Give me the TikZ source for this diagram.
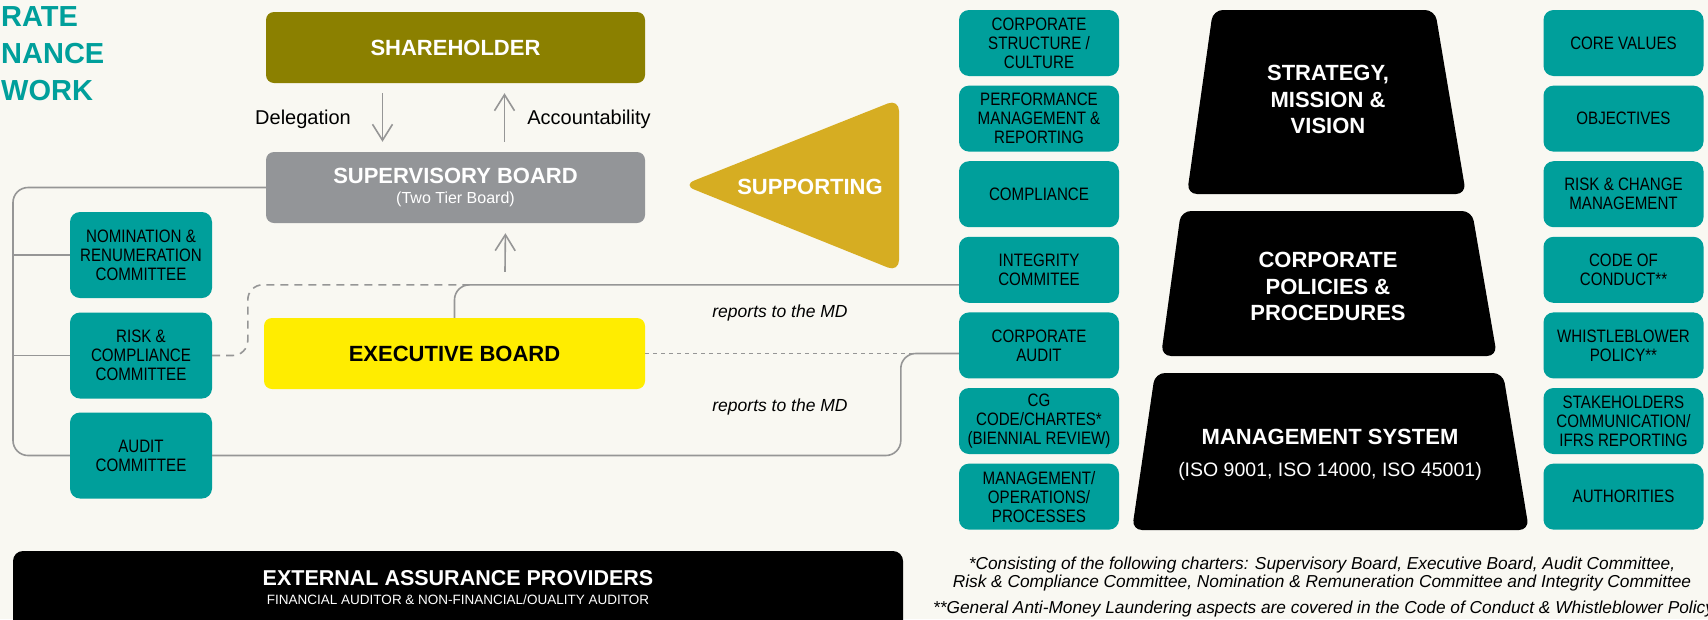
\documentclass[tikz,border=0pt]{standalone}
\usepackage{fontspec}
\setmainfont{Liberation Sans}
\newfontfamily\narrowfont[FakeStretch=0.84]{Liberation Sans}
\usetikzlibrary{arrows.meta}

\definecolor{bgcream}{RGB}{249,248,242}
\definecolor{cgteal}{RGB}{0,159,155}
\definecolor{cgolive}{RGB}{139,128,0}
\definecolor{cggrey}{RGB}{147,149,152}
\definecolor{cggold}{RGB}{214,173,34}
\definecolor{cgyellow}{RGB}{255,237,0}
\definecolor{cgline}{RGB}{150,150,150}

\begin{document}
\begin{tikzpicture}[x=1pt, y=-1pt,
    board/.style = {rounded corners=8pt, minimum width=379pt, minimum height=71pt, inner sep=0pt, align=center},
    topic/.style = {fill=cgteal, rounded corners=10pt, minimum width=160pt, minimum height=66pt, inner sep=0pt, align=center, font=\narrowfont\fontsize{18}{19}\selectfont},
    committee/.style = {topic, minimum width=142pt, minimum height=86pt},
    link/.style = {cgline, line width=1.6pt, rounded corners=15pt},
    arrow/.style = {cgline, line width=1.6pt, -{Straight Barb[length=16pt,width=20pt]}, shorten >=10pt, shorten <=10pt},
    slab/.style = {fill=black, rounded corners=10pt},
    big/.style = {text=white, align=center, font=\bfseries\fontsize{22}{26.5}\selectfont},
    note/.style = {font=\itshape\fontsize{17.3}{18}\selectfont, inner sep=0pt}]

    \fill[bgcream] (0,0) rectangle (1708,619);
    \useasboundingbox (0,0) rectangle (1708,619);

    % title, cut at the left edge
    \node[anchor=base west, inner sep=0pt, text=cgteal, font=\bfseries\fontsize{29}{29}\selectfont] (titleA) at (1,26) {RATE};
    \node[anchor=base west, inner sep=0pt, text=cgteal, font=\bfseries\fontsize{29}{29}\selectfont] (titleB) at (1,63) {NANCE};
    \node[anchor=base west, inner sep=0pt, text=cgteal, font=\bfseries\fontsize{29}{29}\selectfont] (titleC) at (1,100) {WORK};

    % boards
    \node[board, fill=cgolive, text=white, font=\bfseries\fontsize{22}{22}\selectfont] (share) at (455.5,47.5) {SHAREHOLDER};
    \node[board, fill=cggrey, text=white] (super) at (455.5,187.5) {{\bfseries\fontsize{22}{22}\selectfont SUPERVISORY BOARD}\\[8pt]{\fontsize{16}{16}\selectfont (Two Tier Board)}};
    \node[board, fill=cgyellow, minimum width=381pt, font=\bfseries\fontsize{22}{22}\selectfont] (exec) at (454.5,353.5) {EXECUTIVE BOARD};

    \draw[arrow] ([xshift=-73pt]share.south) -- ([xshift=-73pt]super.north);
    \draw[arrow] ([xshift=49pt]super.north) -- ([xshift=49pt]share.south);
    \draw[arrow, shorten <=46pt] ([xshift=50pt]exec.north) -- ([xshift=50pt]super.south);
    \node[font=\fontsize{20}{20}\selectfont] (deleg) at (303,119) {Delegation};
    \node[font=\fontsize{20}{20}\selectfont] (accnt) at (589,119) {Accountability};

    % committees
    \node[committee] (nomin) at (141,255) {NOMINATION \&\\RENUMERATION\\COMMITTEE};
    \node[committee] (riskc) at (141,355.5) {RISK \&\\COMPLIANCE\\COMMITTEE};
    \node[committee] (auditc) at (141,455.5) {AUDIT\\COMMITTEE};

    % supporting
    \fill[cggold, rounded corners=12pt] (791,142) -- (899,99) -- (899,272) -- (683,185) -- cycle;
    \node[text=white, font=\bfseries\fontsize{22}{22}\selectfont] (support) at (810,187) {SUPPORTING};

    % topics left of the pyramid
    \node[topic] (struct) at (1039,43) {CORPORATE\\STRUCTURE /\\CULTURE};
    \node[topic] (perf) at (1039,118.6) {PERFORMANCE\\MANAGEMENT \&\\REPORTING};
    \node[topic] (compl) at (1039,194.2) {COMPLIANCE};
    \node[topic] (integ) at (1039,269.8) {INTEGRITY\\COMMITEE};
    \node[topic] (caudit) at (1039,345.4) {CORPORATE\\AUDIT};
    \node[topic] (cgcode) at (1039,421) {CG\\CODE/CHARTES*\\(BIENNIAL REVIEW)};
    \node[topic] (mgmt) at (1039,496.6) {MANAGEMENT/\\OPERATIONS/\\PROCESSES};

    % topics right of the pyramid
    \node[topic] (values) at (1623.5,43) {CORE VALUES};
    \node[topic] (object) at (1623.5,118.6) {OBJECTIVES};
    \node[topic] (riskch) at (1623.5,194.2) {RISK \& CHANGE\\MANAGEMENT};
    \node[topic] (conduct) at (1623.5,269.8) {CODE OF\\CONDUCT**};
    \node[topic] (whistle) at (1623.5,345.4) {WHISTLEBLOWER\\POLICY**};
    \node[topic] (stake) at (1623.5,421) {STAKEHOLDERS\\COMMUNICATION/\\IFRS REPORTING};
    \node[topic] (author) at (1623.5,496.6) {AUTHORITIES};

    % pyramid
    \fill[slab] (1324,10) -- (1435,10) -- (1466,194) -- (1187,194) -- (1213,10) -- cycle;
    \fill[slab] (1327,211) -- (1472,211) -- (1497,356) -- (1161,356) -- (1181,211) -- cycle;
    \fill[slab] (1329,373) -- (1503,373) -- (1529,530) -- (1132,530) -- (1155,373) -- cycle;
    \node[big] (strat) at (1328,99.5) {STRATEGY,\\MISSION \&\\VISION};
    \node[big] (policy) at (1328,286.5) {CORPORATE\\POLICIES \&\\PROCEDURES};
    \node[big] (mansys) at (1330,455) {MANAGEMENT SYSTEM\\[5pt]{\mdseries\fontsize{19.5}{22}\selectfont (ISO 9001, ISO 14000, ISO 45001)}};

    % reporting lines
    \coordinate (spine) at (13,0);
    \coordinate (mdlink) at ([yshift=-15pt]integ.west);
    \draw[link] (super.west) -| (spine |- auditc.west) -- (auditc.west);
    \draw[link] (spine |- nomin.west) -- (nomin.west);
    \draw[link] (spine |- riskc.west) -- (riskc.west);
    \draw[link] (auditc.east) -| ([xshift=-58pt]caudit.west |- exec.east) -- (exec.east -| caudit.west);
    \draw[cgline, line width=1.6pt, dash pattern=on 4pt off 4pt] (exec.east) -- ([xshift=-43pt]exec.east -| caudit.west);
    \draw[link] (exec.north) |- (mdlink);
    \draw[link, dash pattern=on 8pt off 6pt] (riskc.east) -| ([xshift=-16pt]exec.west |- mdlink) -- ([xshift=15pt]exec.north |- mdlink);
    \node[font=\itshape\fontsize{17.5}{17.5}\selectfont] (rep1) at (780,313) {reports to the MD};
    \node[font=\itshape\fontsize{17.5}{17.5}\selectfont] (rep2) at (780,407) {reports to the MD};

    % external assurance
    \node[fill=black, rounded corners=10pt, minimum width=890pt, minimum height=100pt] (extbox) at (458,601) {};
    \node[text=white, align=center] (exttext) at (458,588) {{\bfseries\fontsize{21.5}{21.5}\selectfont EXTERNAL ASSURANCE PROVIDERS}\\[7pt]{\fontsize{13.5}{13.5}\selectfont FINANCIAL AUDITOR \& NON-FINANCIAL/OUALITY AUDITOR}};

    % footnotes
    \node[note, align=center] (note1) at (1322,574) {*Consisting of the following charters: Supervisory Board, Executive Board, Audit Committee,\\Risk \& Compliance Committee, Nomination \& Remuneration Committee and Integrity Committee};
    \node[note, anchor=west] (note2) at (933,609) {**General Anti-Money Laundering aspects are covered in the Code of Conduct \& Whistleblower Policy};
\end{tikzpicture}
\end{document}
